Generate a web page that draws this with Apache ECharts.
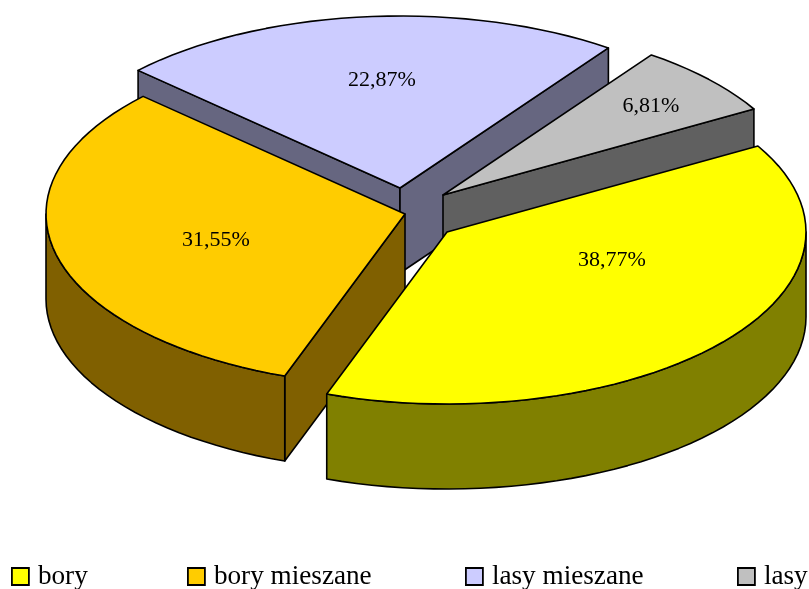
<!DOCTYPE html>
<html>
<head>
<meta charset="utf-8">
<style>
  html, body { margin: 0; padding: 0; background: #fff; }
  #chart { width: 809px; height: 589px; }
</style>
</head>
<body>
<div id="chart"></div>
<script src="https://cdn.jsdelivr.net/npm/echarts@6/dist/echarts.min.js"></script>
<script>
// data
var categories = ['bory', 'bory mieszane', 'lasy mieszane', 'lasy'];
var percents = [38.77, 31.55, 22.87, 6.81];
var topColors = ['#ffff00', '#ffcc00', '#ccccff', '#c0c0c0'];
var sideColors = ['#808000', '#806000', '#666680', '#606060'];

// pie geometry: tilted ellipse, each slice pulled out to its own apex
var rx = 359, ry = 172, depth = 85, firstAngle = 30;
var apexes = [[447, 232], [405, 214], [400, 188], [443, 195]];
var labelOffsets = [[165, 28], [-189, 26], [-18, -108], [208, -89]];
var zOrder = [4, 3, 1, 2];
var legendLefts = [11, 187, 465, 737];

var serif = '"Liberation Serif", "Times New Roman", serif';

function sliceAngles(i) {
  var total = percents.reduce(function (a, b) { return a + b; }, 0);
  var done = 0;
  for (var k = 0; k < i; k++) done += percents[k];
  var from = firstAngle - done / total * 360;
  return [from, from - percents[i] / total * 360];
}

function onRim(apex, deg, drop) {
  var r = deg * Math.PI / 180;
  return [apex[0] + rx * Math.cos(r), apex[1] - ry * Math.sin(r) + (drop || 0)];
}

function arcPoints(apex, from, to, drop) {
  var pts = [];
  var steps = Math.max(1, Math.ceil(Math.abs(from - to) / 2.5));
  for (var s = 0; s <= steps; s++) {
    pts.push(onRim(apex, from + (to - from) * s / steps, drop));
  }
  return pts;
}

function poly(points, fill) {
  return {
    type: 'polygon',
    shape: { points: points },
    style: { fill: fill, stroke: '#000', lineWidth: 1.6, lineJoin: 'round' }
  };
}

function cutFace(apex, deg, fill) {
  var p = onRim(apex, deg);
  return poly([apex, p, [p[0], p[1] + depth], [apex[0], apex[1] + depth]], fill);
}

function renderSlice(params) {
  var i = params.seriesIndex;
  var apex = apexes[i];
  var a = sliceAngles(i);
  var side = sideColors[i];
  var children = [];

  // cut faces, only when their outward normal points towards the viewer
  if (Math.sin((a[0] + 90) * Math.PI / 180) < 0) children.push(cutFace(apex, a[0], side));
  if (Math.sin((a[1] - 90) * Math.PI / 180) < 0) children.push(cutFace(apex, a[1], side));

  // outer wall, the part of the arc on the lower half of the ellipse
  [0, -360].forEach(function (k) {
    var hi = Math.min(a[0], k);
    var lo = Math.max(a[1], k - 180);
    if (hi > lo) {
      var pts = arcPoints(apex, hi, lo, 0).concat(arcPoints(apex, lo, hi, depth));
      children.push(poly(pts, side));
    }
  });

  // top
  children.push(poly([apex].concat(arcPoints(apex, a[0], a[1], 0)), topColors[i]));

  children.push({
    type: 'text',
    style: {
      x: apex[0] + labelOffsets[i][0],
      y: apex[1] + labelOffsets[i][1],
      text: percents[i].toFixed(2).replace('.', ',') + '%',
      font: '22px ' + serif,
      fill: '#000',
      align: 'center',
      verticalAlign: 'middle'
    }
  });
  return { type: 'group', children: children };
}

var chart = echarts.init(document.getElementById('chart'));
chart.setOption({
  animation: false,
  backgroundColor: '#fff',
  // one legend per entry, the gaps in the picture are not even
  legend: categories.map(function (name, i) {
    return {
      left: legendLefts[i],
      top: 563,
      itemWidth: 17,
      itemHeight: 17,
      icon: 'rect',
      selectedMode: false,
      padding: 0,
      data: [name],
      itemStyle: { borderColor: '#000', borderWidth: 1.8 },
      textStyle: { fontFamily: serif, fontSize: 27.2, color: '#000', padding: [3, 0, 0, 4] }
    };
  }),
  series: categories.map(function (name, i) {
    return {
      name: name,
      type: 'custom',
      coordinateSystem: 'none',
      z: zOrder[i],
      silent: true,
      itemStyle: { color: topColors[i] },
      data: [[percents[i]]],
      renderItem: renderSlice
    };
  })
});
</script>
</body>
</html>
